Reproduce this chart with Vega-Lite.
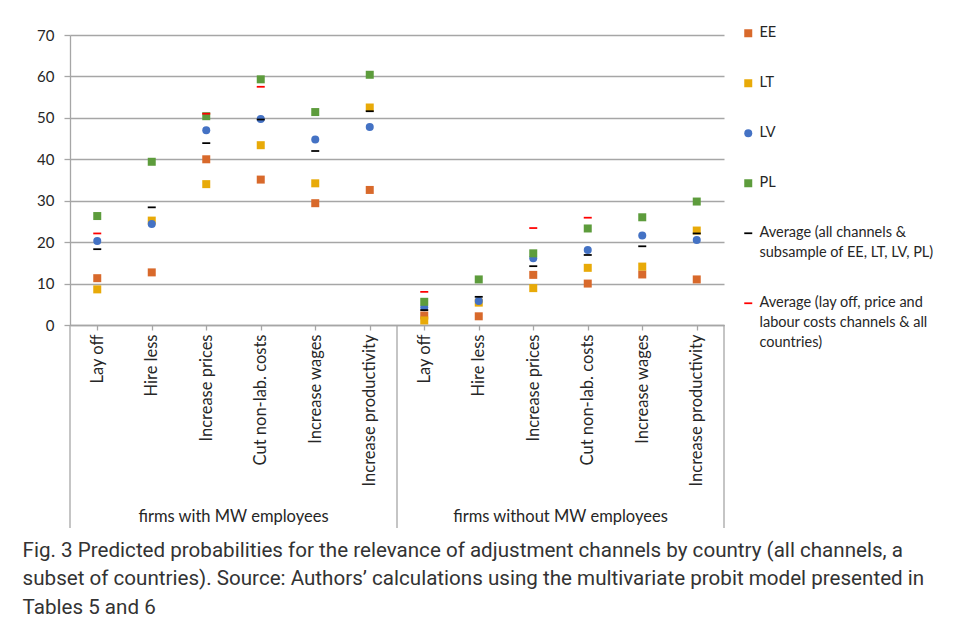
{
  "$schema": "https://vega.github.io/schema/vega-lite/v6.json",
  "width": 654,
  "height": 290,
  "padding": {"left": 22, "top": 26, "right": 5, "bottom": 5},
  "background": "white",
  "config": {"font": "Lato", "view": {"stroke": null}, "style": {"guide-label": {"lineHeight": 20}}},
  "title": {
    "text": [
      "Fig. 3 Predicted probabilities for the relevance of adjustment channels by country (all channels, a",
      "subset of countries). Source: Authors’ calculations using the multivariate probit model presented in",
      "Tables 5 and 6"
    ],
    "orient": "bottom",
    "anchor": "start",
    "frame": "bounds",
    "font": "Roboto",
    "fontSize": 20.6,
    "fontWeight": "normal",
    "color": "#333333",
    "lineHeight": 28.5,
    "offset": 12,
    "dx": -14
  },
  "datasets": {
    "points": [
      {"group": "1", "channel": "Lay off", "series": "EE", "value": 11.3},
      {"group": "1", "channel": "Hire less", "series": "EE", "value": 12.7},
      {"group": "1", "channel": "Increase prices", "series": "EE", "value": 40.0},
      {"group": "1", "channel": "Cut non-lab. costs", "series": "EE", "value": 35.1},
      {"group": "1", "channel": "Increase wages", "series": "EE", "value": 29.4},
      {"group": "1", "channel": "Increase productivity", "series": "EE", "value": 32.6},
      {"group": "2", "channel": "Lay off", "series": "EE", "value": 2.3},
      {"group": "2", "channel": "Hire less", "series": "EE", "value": 2.1},
      {"group": "2", "channel": "Increase prices", "series": "EE", "value": 12.1},
      {"group": "2", "channel": "Cut non-lab. costs", "series": "EE", "value": 10.0},
      {"group": "2", "channel": "Increase wages", "series": "EE", "value": 12.2},
      {"group": "2", "channel": "Increase productivity", "series": "EE", "value": 11.0},
      {"group": "1", "channel": "Lay off", "series": "LT", "value": 8.6},
      {"group": "1", "channel": "Hire less", "series": "LT", "value": 25.2},
      {"group": "1", "channel": "Increase prices", "series": "LT", "value": 34.0},
      {"group": "1", "channel": "Cut non-lab. costs", "series": "LT", "value": 43.4},
      {"group": "1", "channel": "Increase wages", "series": "LT", "value": 34.2},
      {"group": "1", "channel": "Increase productivity", "series": "LT", "value": 52.5},
      {"group": "2", "channel": "Lay off", "series": "LT", "value": 1.1},
      {"group": "2", "channel": "Hire less", "series": "LT", "value": 5.4},
      {"group": "2", "channel": "Increase prices", "series": "LT", "value": 8.9},
      {"group": "2", "channel": "Cut non-lab. costs", "series": "LT", "value": 13.8},
      {"group": "2", "channel": "Increase wages", "series": "LT", "value": 14.1},
      {"group": "2", "channel": "Increase productivity", "series": "LT", "value": 22.8},
      {"group": "1", "channel": "Lay off", "series": "LV", "value": 20.3},
      {"group": "1", "channel": "Hire less", "series": "LV", "value": 24.4},
      {"group": "1", "channel": "Increase prices", "series": "LV", "value": 47.0},
      {"group": "1", "channel": "Cut non-lab. costs", "series": "LV", "value": 49.7},
      {"group": "1", "channel": "Increase wages", "series": "LV", "value": 44.8},
      {"group": "1", "channel": "Increase productivity", "series": "LV", "value": 47.8},
      {"group": "2", "channel": "Lay off", "series": "LV", "value": 4.3},
      {"group": "2", "channel": "Hire less", "series": "LV", "value": 5.8},
      {"group": "2", "channel": "Increase prices", "series": "LV", "value": 16.1},
      {"group": "2", "channel": "Cut non-lab. costs", "series": "LV", "value": 18.1},
      {"group": "2", "channel": "Increase wages", "series": "LV", "value": 21.6},
      {"group": "2", "channel": "Increase productivity", "series": "LV", "value": 20.5},
      {"group": "1", "channel": "Lay off", "series": "PL", "value": 26.3},
      {"group": "1", "channel": "Hire less", "series": "PL", "value": 39.4},
      {"group": "1", "channel": "Increase prices", "series": "PL", "value": 50.4},
      {"group": "1", "channel": "Cut non-lab. costs", "series": "PL", "value": 59.3},
      {"group": "1", "channel": "Increase wages", "series": "PL", "value": 51.4},
      {"group": "1", "channel": "Increase productivity", "series": "PL", "value": 60.4},
      {"group": "2", "channel": "Lay off", "series": "PL", "value": 5.6},
      {"group": "2", "channel": "Hire less", "series": "PL", "value": 11.0},
      {"group": "2", "channel": "Increase prices", "series": "PL", "value": 17.3},
      {"group": "2", "channel": "Cut non-lab. costs", "series": "PL", "value": 23.3},
      {"group": "2", "channel": "Increase wages", "series": "PL", "value": 26.0},
      {"group": "2", "channel": "Increase productivity", "series": "PL", "value": 29.8},
      {"group": "1", "channel": "Lay off", "series": "Average (all channels &\nsubsample of EE, LT, LV, PL)", "value": 18.3},
      {"group": "1", "channel": "Hire less", "series": "Average (all channels &\nsubsample of EE, LT, LV, PL)", "value": 28.4},
      {"group": "1", "channel": "Increase prices", "series": "Average (all channels &\nsubsample of EE, LT, LV, PL)", "value": 43.9},
      {"group": "1", "channel": "Cut non-lab. costs", "series": "Average (all channels &\nsubsample of EE, LT, LV, PL)", "value": 49.6},
      {"group": "1", "channel": "Increase wages", "series": "Average (all channels &\nsubsample of EE, LT, LV, PL)", "value": 42.0},
      {"group": "1", "channel": "Increase productivity", "series": "Average (all channels &\nsubsample of EE, LT, LV, PL)", "value": 51.6},
      {"group": "2", "channel": "Lay off", "series": "Average (all channels &\nsubsample of EE, LT, LV, PL)", "value": 3.6},
      {"group": "2", "channel": "Hire less", "series": "Average (all channels &\nsubsample of EE, LT, LV, PL)", "value": 6.8},
      {"group": "2", "channel": "Increase prices", "series": "Average (all channels &\nsubsample of EE, LT, LV, PL)", "value": 14.2},
      {"group": "2", "channel": "Cut non-lab. costs", "series": "Average (all channels &\nsubsample of EE, LT, LV, PL)", "value": 16.9},
      {"group": "2", "channel": "Increase wages", "series": "Average (all channels &\nsubsample of EE, LT, LV, PL)", "value": 19.0},
      {"group": "2", "channel": "Increase productivity", "series": "Average (all channels &\nsubsample of EE, LT, LV, PL)", "value": 22.1},
      {"group": "1", "channel": "Lay off", "series": "Average (lay off, price and\nlabour costs channels & all\ncountries)", "value": 22.1},
      {"group": "1", "channel": "Increase prices", "series": "Average (lay off, price and\nlabour costs channels & all\ncountries)", "value": 51.0},
      {"group": "1", "channel": "Cut non-lab. costs", "series": "Average (lay off, price and\nlabour costs channels & all\ncountries)", "value": 57.5},
      {"group": "2", "channel": "Lay off", "series": "Average (lay off, price and\nlabour costs channels & all\ncountries)", "value": 8.0},
      {"group": "2", "channel": "Increase prices", "series": "Average (lay off, price and\nlabour costs channels & all\ncountries)", "value": 23.4},
      {"group": "2", "channel": "Cut non-lab. costs", "series": "Average (lay off, price and\nlabour costs channels & all\ncountries)", "value": 25.9}
    ],
    "groups": [
      {"group": "firms with MW employees"},
      {"group": "firms without MW employees"}
    ]
  },
  "layer": [
    {
      "data": {"name": "points"},
      "transform": [{"calculate": "datum.group + '|' + datum.channel", "as": "key"}],
      "mark": {"type": "point", "filled": true, "opacity": 1},
      "encoding": {
        "x": {
          "field": "key",
          "type": "nominal",
          "sort": null,
          "scale": {
            "domain": ["1|Lay off", "1|Hire less", "1|Increase prices", "1|Cut non-lab. costs", "1|Increase wages", "1|Increase productivity",
                       "2|Lay off", "2|Hire less", "2|Increase prices", "2|Cut non-lab. costs", "2|Increase wages", "2|Increase productivity"],
            "paddingInner": 0,
            "paddingOuter": 0
          },
          "axis": {
            "title": null,
            "labelExpr": "split(datum.label, '|')[1]",
            "labelAngle": 270,
            "labelFontSize": 16.5,
            "labelColor": "#262626",
            "labelPadding": 4,
            "labelLimit": 250,
            "tickSize": 5,
            "tickColor": "#a6a6a6",
            "tickWidth": 1.3,
            "domainColor": "#a6a6a6",
            "domainWidth": 1.3,
            "bandPosition": 0.5,
            "grid": false
          }
        },
        "y": {
          "field": "value",
          "type": "quantitative",
          "scale": {"domain": [0, 70], "nice": false},
          "axis": {
            "title": null,
            "values": [0, 10, 20, 30, 40, 50, 60, 70],
            "tickSize": 6,
            "tickColor": "#a6a6a6",
            "tickWidth": 1.3,
            "labelPadding": 10,
            "labelFontSize": 15,
            "labelColor": "#262626",
            "gridColor": "#a6a6a6",
            "gridWidth": 1.3,
            "domainColor": "#a6a6a6",
            "domainWidth": 1.3
          }
        },
        "color": {
          "field": "series",
          "type": "nominal",
          "scale": {
            "domain": ["EE", "LT", "LV", "PL", "Average (all channels &\nsubsample of EE, LT, LV, PL)", "Average (lay off, price and\nlabour costs channels & all\ncountries)"],
            "range": ["#d8692b", "#e8aa08", "#4472c4", "#5d9c3c", "#000000", "#ff0000"]
          },
          "legend": {
            "title": null,
            "orient": "none",
            "legendX": 671,
            "legendY": -9,
            "labelFontSize": 14.5,
            "labelColor": "#262626",
            "labelLimit": 300,
            "labelOffset": 4,
            "rowPadding": 35,
            "labelExpr": "split(datum.label, '\\n')",
            "symbolStrokeWidth": 0
          }
        },
        "shape": {
          "field": "series",
          "type": "nominal",
          "scale": {
            "domain": ["EE", "LT", "LV", "PL", "Average (all channels &\nsubsample of EE, LT, LV, PL)", "Average (lay off, price and\nlabour costs channels & all\ncountries)"],
            "range": ["square", "square", "circle", "square", "M-1,-0.22H1V0.22H-1Z", "M-1,-0.22H1V0.22H-1Z"]
          }
        },
        "size": {
          "field": "series",
          "type": "nominal",
          "scale": {
            "domain": ["EE", "LT", "LV", "PL", "Average (all channels &\nsubsample of EE, LT, LV, PL)", "Average (lay off, price and\nlabour costs channels & all\ncountries)"],
            "range": [64, 64, 72, 64, 100, 100]
          }
        }
      }
    },
    {
      "data": {"name": "groups"},
      "mark": {"type": "text", "fontSize": 16.5, "color": "#262626", "baseline": "middle"},
      "encoding": {
        "x": {"field": "group", "type": "nominal", "axis": null, "scale": {"paddingInner": 0, "paddingOuter": 0}},
        "y": {"datum": -46.3, "type": "quantitative", "scale": {"domain": [0, 70], "nice": false}},
        "text": {"field": "group"}
      }
    },
    {
      "data": {"name": "groups"},
      "mark": {"type": "rule", "color": "#a6a6a6", "strokeWidth": 1.3},
      "encoding": {
        "x": {"field": "group", "type": "nominal", "axis": null, "bandPosition": 0, "scale": {"paddingInner": 0, "paddingOuter": 0}},
        "y": {"datum": 0, "type": "quantitative", "scale": {"domain": [0, 70], "nice": false}},
        "y2": {"datum": -49}
      }
    },
    {
      "data": {"name": "groups"},
      "transform": [{"filter": "datum.group == 'firms without MW employees'"}],
      "mark": {"type": "rule", "color": "#a6a6a6", "strokeWidth": 1.3},
      "encoding": {
        "x": {"field": "group", "type": "nominal", "axis": null, "bandPosition": 1, "scale": {"domain": ["firms with MW employees", "firms without MW employees"], "paddingInner": 0, "paddingOuter": 0}},
        "y": {"datum": 0, "type": "quantitative", "scale": {"domain": [0, 70], "nice": false}},
        "y2": {"datum": -49}
      }
    }
  ],
  "resolve": {"scale": {"x": "independent"}}
}
